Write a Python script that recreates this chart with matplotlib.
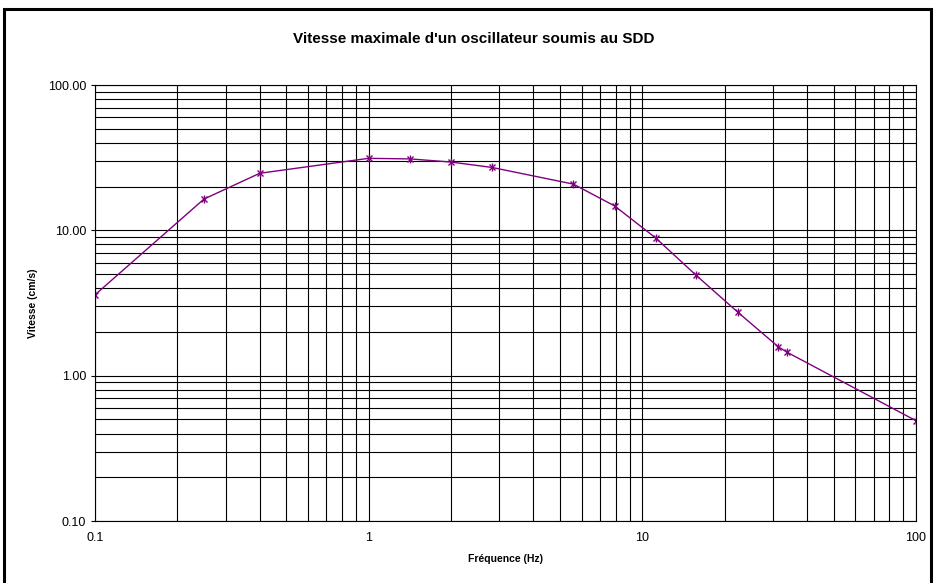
import matplotlib.pyplot as plt
from matplotlib.ticker import FixedLocator, FixedFormatter, NullFormatter, LogLocator
from matplotlib.patches import Rectangle

plt.rcParams['font.family'] = ['Liberation Sans', 'DejaVu Sans']

# Données
freq = [0.1, 0.25, 0.40, 1.0, 1.42, 2.0, 2.82, 5.6, 7.93, 11.2, 15.7, 22.3, 31.4, 33.8, 100]
vitesse = [3.6, 16.4, 24.7, 31.3, 31.0, 29.5, 27.1, 20.8, 14.7, 8.85, 4.92, 2.74, 1.58, 1.45, 0.49]

x_ticks = [0.1, 1, 10, 100]
x_labels = ['0.1', '1', '10', '100']
y_ticks = [0.1, 1, 10, 100]
y_labels = ['0.10', '1.00', '10.00', '100.00']

fig = plt.figure(figsize=(9.34, 5.83), dpi=100)
ax = fig.add_axes([0.1017, 0.1063, 0.879, 0.7479])

ax.set_xscale('log')
ax.set_yscale('log')
ax.set_xlim(0.1, 100)
ax.set_ylim(0.1, 100)

# quadrillage majeur + mineur
ax.xaxis.set_major_locator(FixedLocator(x_ticks))
ax.xaxis.set_major_formatter(FixedFormatter(x_labels))
ax.yaxis.set_major_locator(FixedLocator(y_ticks))
ax.yaxis.set_major_formatter(FixedFormatter(y_labels))
ax.xaxis.set_minor_locator(LogLocator(base=10, subs=range(2, 10)))
ax.yaxis.set_minor_locator(LogLocator(base=10, subs=range(2, 10)))
ax.xaxis.set_minor_formatter(NullFormatter())
ax.yaxis.set_minor_formatter(NullFormatter())
ax.grid(True, which='both', color='black', linewidth=0.8)
ax.set_axisbelow(True)

ax.tick_params(axis='y', which='major', labelsize=9, length=3, width=0.8, pad=3.5)
ax.tick_params(axis='x', which='major', labelsize=9, length=0, pad=8)
ax.tick_params(axis='both', which='minor', length=0)
for s in ax.spines.values():
    s.set_linewidth(0.8)

ax.plot(freq, vitesse, color='#800080', linewidth=1.0, marker='x', markersize=5,
        markeredgewidth=1.0)
ax.plot(freq, vitesse, linestyle='none', color='#800080', marker='|', markersize=6,
        markeredgewidth=1.0)

fig.text(0.5075, 0.933, "Vitesse maximale d'un oscillateur soumis au SDD", fontsize=11,
         fontweight='bold', ha='center', va='center')
ax.set_xlabel('Fréquence (Hz)', fontsize=7.5, fontweight='bold', labelpad=7)
ax.set_ylabel('Vitesse (cm/s)', fontsize=7.5, fontweight='bold', labelpad=7)

# cadre autour de la figure
fig.patches.append(Rectangle((0.004, -0.01), 0.993, 0.995, transform=fig.transFigure,
                             fill=False, edgecolor='black', linewidth=2.2))

fig.savefig('out.png', dpi=100)
